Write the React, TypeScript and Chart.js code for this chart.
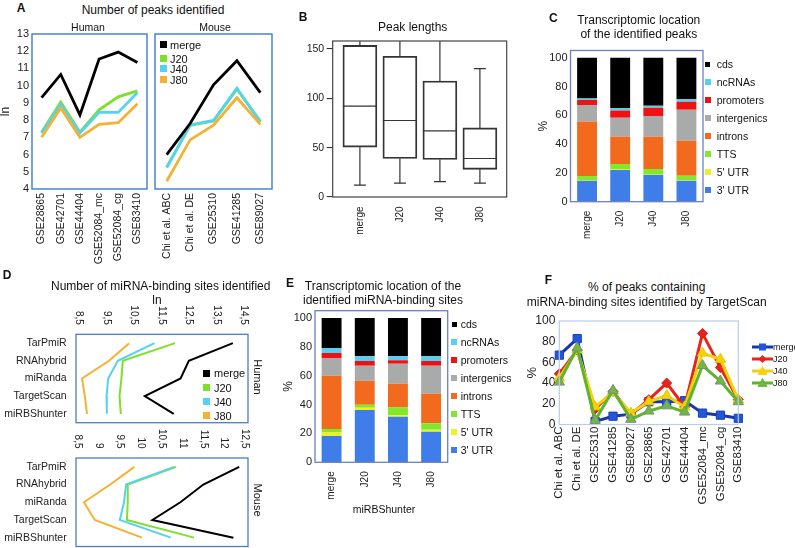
import React, { useEffect, useRef } from 'react';
import { Chart, registerables } from 'chart.js';

Chart.register(...registerables);

const FONT = "'Liberation Sans', Arial, Helvetica, sans-serif";
Chart.defaults.font.family = FONT;
Chart.defaults.color = '#222';

// ---------- colours ----------
const C_MERGE = '#000000';
const C_J20 = '#7fe02a';
const C_J40 = '#55d2f2';
const C_J80 = '#f5b133';

// ---------- Panel A data ----------
const aHumanCats = ['GSE28865', 'GSE42701', 'GSE44404', 'GSE52084_mc', 'GSE52084_cg', 'GSE83410'];
const aHumanMerge = [9.3, 10.65, 8.3, 11.55, 11.95, 11.35];
const aHumanJ20 = [7.3, 9.05, 7.3, 8.6, 9.35, 9.7];
const aHumanJ40 = [7.25, 8.9, 7.25, 8.45, 8.45, 9.6];
const aHumanJ80 = [7.0, 8.7, 7.0, 7.75, 7.85, 8.95];

const aMouseCats = ['Chi et al. ABC', 'Chi et al. DE', 'GSE25310', 'GSE41285', 'GSE89027'];
const aMouseMerge = [6.0, 7.8, 10.05, 11.45, 9.6];
const aMouseJ20 = [5.25, 7.7, 7.95, 9.8, 7.95];
const aMouseJ40 = [5.25, 7.72, 7.98, 9.85, 7.88];
const aMouseJ80 = [4.45, 6.85, 7.7, 9.3, 7.75];

// ---------- Panel B data ----------
const bCats = ['merge', 'J20', 'J40', 'J80'];
const bLow = [12, 14, 15.5, 14];
const bQ1 = [50.5, 39, 38, 28];
const bMed = [92, 77.5, 67, 39];
const bQ3 = [153.5, 142.5, 117.5, 70];
const bHigh = [175, 175, 175, 130];

// ---------- Panels C / E data ----------
const locCats = ['merge', 'J20', 'J40', 'J80'];
const segLabels = ["3' UTR", "5' UTR", 'TTS', 'introns', 'intergenics', 'promoters', 'ncRNAs', 'cds'];
const segColors = ['#3f7ee8', '#f0f01e', '#82e82c', '#f26a1e', '#a9abab', '#f01212', '#55d0f2', '#000000'];

const c3UTR = [14.6, 22.0, 18.5, 14.6];
const c5UTR = [0.3, 0.3, 0.3, 0.3];
const cTTS = [3.0, 3.9, 3.9, 3.2];
const cIntrons = [37.8, 18.9, 22.4, 24.3];
const cIntergenics = [11.5, 13.2, 14.4, 21.5];
const cPromoters = [3.5, 5.1, 5.8, 5.5];
const cNcRNAs = [0.9, 1.6, 1.4, 1.7];
const cCds = [28.4, 35.0, 33.3, 28.9];

const e3UTR = [18.3, 36.3, 31.5, 21.1];
const e5UTR = [2.3, 1.4, 1.1, 1.4];
const eTTS = [2.5, 2.1, 5.4, 4.6];
const eIntrons = [36.9, 16.7, 16.4, 20.4];
const eIntergenics = [12.2, 10.4, 13.9, 19.4];
const ePromoters = [3.5, 3.2, 2.3, 3.2];
const eNcRNAs = [3.5, 3.3, 2.8, 3.3];
const eCds = [20.8, 26.6, 26.6, 26.6];

const locTicks = [0, 10, 20, 30, 40, 50, 60, 70, 80, 90, 100];

// ---------- Panel D data ----------
const dMethods = ['TarPmiR', 'RNAhybrid', 'miRanda', 'TargetScan', 'miRBShunter'];
const dHumanMerge = [14.1, 12.5, 12.2, 10.9, 11.95];
const dHumanJ20 = [12.0, 10.1, 10.05, 9.98, 10.03];
const dHumanJ40 = [11.25, 9.92, 9.57, 9.51, 9.52];
const dHumanJ80 = [10.33, 9.6, 8.62, 8.72, 8.8];
const dMouseMerge = [12.36, 11.5, 10.95, 10.28, 12.22];
const dMouseJ20 = [10.85, 9.69, 9.69, 9.67, 11.28];
const dMouseJ40 = [10.8, 9.65, 9.6, 9.5, 10.72];
const dMouseJ80 = [9.85, 9.27, 8.64, 8.9, 10.03];
const dHumanTicks = [8.5, 9.5, 10.5, 11.5, 12.5, 13.5, 14.5];
const dMouseTicks = [8.5, 9, 9.5, 10, 10.5, 11, 11.5, 12, 12.5];

// ---------- Panel F data ----------
const fCats = ['Chi et al. ABC', 'Chi et al. DE', 'GSE25310', 'GSE41285', 'GSE89027', 'GSE28865', 'GSE42701', 'GSE44404', 'GSE52084_mc', 'GSE52084_cg', 'GSE83410'];
const fMerge = [67, 83, 3, 8, 10, 22, 22, 23, 11, 9, 6];
const fJ20 = [49, 72, 15, 32, 10, 24, 40, 17, 88, 55, 24];
const fJ40 = [45, 72, 17, 31, 11, 22, 28, 17, 69, 63, 24];
const fJ80 = [41, 74, 4, 33, 5, 13, 18, 12, 57, 42, 22];

// ---------- helpers ----------
const fix = (size: number) => (s: any) => {
  if (s.isHorizontal()) s.height = size;
  else s.width = size;
  s.paddingLeft = 0;
  s.paddingRight = 0;
  s.paddingTop = 0;
  s.paddingBottom = 0;
};

const framePlugin = (color: string, width = 1.2) => ({
  id: 'frame',
  afterDraw(chart: any) {
    const { ctx, chartArea: a } = chart;
    ctx.save();
    ctx.strokeStyle = color;
    ctx.lineWidth = width;
    ctx.strokeRect(a.left, a.top, a.right - a.left, a.bottom - a.top);
    ctx.restore();
  },
});

const noGrid = { display: false, drawTicks: false };
const noBorder = { display: false };
const baseOpts = {
  responsive: false,
  animation: false,
  devicePixelRatio: 1,
  events: [],
};
const noPlugins = { legend: { display: false }, tooltip: { enabled: false }, title: { display: false } };

type G = { cl: number; ct: number; cw: number; ch: number; al: number; at: number; ar: number; ab: number };

// ---------- Panel A ----------
function makeA(cats: string[], m: number[], j20: number[], j40: number[], j80: number[], g: G, showY: boolean) {
  const ds = (label: string, data: number[], color: string, order: number) => ({
    label, data, borderColor: color, backgroundColor: color, borderWidth: 2.8, pointRadius: 0, tension: 0, order,
  });
  const yScale: any = {
    type: 'linear', display: showY, min: 4, max: 13,
    ticks: { stepSize: 1, font: { size: 11 }, padding: 3 },
    grid: noGrid, border: noBorder,
    title: { display: true, text: 'ln', font: { size: 12 }, padding: { top: -2, bottom: 0 } },
  };
  if (showY) yScale.afterFit = fix(g.al - g.cl);
  return {
    type: 'line',
    data: {
      labels: cats,
      datasets: [ds('merge', m, C_MERGE, 0), ds('J20', j20, C_J20, 3), ds('J40', j40, C_J40, 2), ds('J80', j80, C_J80, 1)],
    },
    options: {
      ...baseOpts,
      layout: { padding: { left: showY ? 0 : g.al - g.cl, top: g.at - g.ct, right: g.cl + g.cw - g.ar, bottom: 0 } },
      plugins: noPlugins,
      scales: {
        x: {
          type: 'category', offset: true, grid: noGrid, border: noBorder,
          ticks: { font: { size: 10.5 }, padding: 4, minRotation: 90, maxRotation: 90, autoSkip: false },
          afterFit: fix(g.ct + g.ch - g.ab),
        },
        y: yScale,
      },
    },
    plugins: [framePlugin('#3d7cc9', 1.4)],
  };
}

// ---------- Panel B ----------
const whiskerPlugin = {
  id: 'whiskers',
  afterDatasetsDraw(chart: any) {
    const { ctx, chartArea: a, scales } = chart;
    const x = scales.x, y = scales.y;
    const meta = chart.getDatasetMeta(0);
    ctx.save();
    ctx.beginPath();
    ctx.rect(a.left, a.top, a.right - a.left, a.bottom - a.top);
    ctx.clip();
    ctx.strokeStyle = '#333';
    ctx.lineWidth = 1.2;
    const line = (x1: number, y1: number, x2: number, y2: number) => {
      ctx.beginPath();
      ctx.moveTo(x1, y1);
      ctx.lineTo(x2, y2);
      ctx.stroke();
    };
    bCats.forEach((_, i) => {
      const px = x.getPixelForValue(i);
      const half = meta.data[i] ? meta.data[i].width / 2 : 17;
      const cap = 6;
      line(px, y.getPixelForValue(bLow[i]), px, y.getPixelForValue(bQ1[i]));
      line(px, y.getPixelForValue(bQ3[i]), px, y.getPixelForValue(bHigh[i]));
      line(px - cap, y.getPixelForValue(bLow[i]), px + cap, y.getPixelForValue(bLow[i]));
      line(px - cap, y.getPixelForValue(bHigh[i]), px + cap, y.getPixelForValue(bHigh[i]));
      line(px - half, y.getPixelForValue(bMed[i]), px + half, y.getPixelForValue(bMed[i]));
    });
    ctx.restore();
  },
};

function makeB(g: G) {
  return {
    type: 'bar',
    data: {
      datasets: [{
        label: 'Peak lengths',
        data: bCats.map((_, i) => ({ x: i, y: [bQ1[i], bQ3[i]] })),
        backgroundColor: 'rgba(255,255,255,0)',
        borderColor: '#333',
        borderWidth: 1.2,
        borderSkipped: false,
        barThickness: 34,
      }],
    },
    options: {
      ...baseOpts,
      layout: { padding: { left: 0, top: g.at - g.ct, right: g.cl + g.cw - g.ar, bottom: 0 } },
      plugins: noPlugins,
      scales: {
        x: {
          type: 'linear', min: -0.68, max: 3.67, offset: false,
          afterBuildTicks: (s: any) => { s.ticks = bCats.map((_, i) => ({ value: i })); },
          ticks: { font: { size: 10 }, padding: 9.5, minRotation: 90, maxRotation: 90, autoSkip: false, callback: (v: any) => bCats[v] },
          grid: { display: false, drawTicks: false, offset: false }, border: noBorder,
          afterFit: fix(g.ct + g.ch - g.ab),
        },
        y: {
          type: 'linear', min: 0, max: 158,
          ticks: { stepSize: 50, font: { size: 10.5 }, padding: 2.5, includeBounds: false },
          grid: { display: true, drawOnChartArea: false, drawTicks: true, tickLength: 6, color: '#333', lineWidth: 1.1 },
          border: noBorder,
          afterFit: fix(g.al - g.cl),
        },
      },
    },
    plugins: [whiskerPlugin, framePlugin('#444', 1.2)],
  };
}

// ---------- Panels C / E ----------
function makeLoc(series: number[][], g: G) {
  return {
    type: 'bar',
    data: {
      labels: locCats,
      datasets: series.map((d, i) => ({
        label: segLabels[i], data: d, backgroundColor: segColors[i], borderWidth: 0,
        categoryPercentage: 1, barPercentage: 0.6,
      })),
    },
    options: {
      ...baseOpts,
      layout: { padding: { left: 0, top: g.at - g.ct, right: g.cl + g.cw - g.ar, bottom: 0 } },
      plugins: noPlugins,
      scales: {
        x: {
          type: 'category', stacked: true, grid: noGrid, border: noBorder,
          ticks: { font: { size: 10 }, padding: 9, minRotation: 90, maxRotation: 90, autoSkip: false },
          afterFit: fix(g.ct + g.ch - g.ab),
        },
        y: {
          type: 'linear', stacked: true, min: 0, max: 105,
          afterBuildTicks: (s: any) => { s.ticks = locTicks.map((v) => ({ value: v })); },
          ticks: { font: { size: 11 }, padding: 3 },
          grid: noGrid, border: noBorder,
          title: { display: true, text: '%', font: { size: 12 }, padding: { top: 0, bottom: 0 } },
          afterFit: fix(g.al - g.cl),
        },
      },
    },
    plugins: [framePlugin('#6b7fc8', 1.3)],
  };
}

// ---------- Panel D ----------
const fmtComma = (v: number) => String(v).replace('.', ',');
const topTicksPlugin = (gap: number) => ({
  id: 'topTicks',
  afterDraw(chart: any) {
    const s = chart.scales.x;
    const { ctx, chartArea: a } = chart;
    ctx.save();
    ctx.font = `10px ${FONT}`;
    ctx.fillStyle = '#222';
    ctx.textAlign = 'right';
    ctx.textBaseline = 'middle';
    s.ticks.forEach((t: any) => {
      const px = s.getPixelForValue(t.value);
      ctx.save();
      ctx.translate(px, a.top - gap);
      ctx.rotate(Math.PI / 2);
      ctx.fillText(fmtComma(t.value), 0, 0);
      ctx.restore();
    });
    ctx.restore();
  },
});

function makeD(m: number[], j20: number[], j40: number[], j80: number[], min: number, max: number, ticks: number[], g: G) {
  const ds = (label: string, data: number[], color: string, order: number) => ({
    label, data, borderColor: color, backgroundColor: color, borderWidth: 2, pointRadius: 0, tension: 0, order,
  });
  return {
    type: 'line',
    data: {
      labels: dMethods,
      datasets: [ds('merge', m, C_MERGE, 0), ds('J20', j20, C_J20, 3), ds('J40', j40, C_J40, 2), ds('J80', j80, C_J80, 1)],
    },
    options: {
      ...baseOpts,
      indexAxis: 'y',
      layout: { padding: { left: 0, top: 0, right: g.cl + g.cw - g.ar, bottom: g.ct + g.ch - g.ab } },
      plugins: noPlugins,
      scales: {
        x: {
          type: 'linear', position: 'top', min, max,
          afterBuildTicks: (s: any) => { s.ticks = ticks.map((v) => ({ value: v })); },
          ticks: { display: false },
          grid: noGrid, border: noBorder,
          afterFit: fix(g.at - g.ct),
        },
        y: {
          type: 'category', offset: true,
          ticks: { font: { size: 10.5 }, padding: 9.3, autoSkip: false },
          grid: noGrid, border: noBorder,
          afterFit: fix(g.al - g.cl),
        },
      },
    },
    plugins: [topTicksPlugin(9.5), framePlugin('#4a7cc8', 1.3)],
  };
}

// ---------- Panel F ----------
function makeF(g: G) {
  return {
    type: 'line',
    data: {
      labels: fCats,
      datasets: [
        { label: 'merge', data: fMerge, borderColor: '#1b36a6', backgroundColor: '#2157de', pointBackgroundColor: '#2157de', pointBorderColor: '#1b3fb5', pointBorderWidth: 1, pointStyle: 'rect', pointRadius: 5.8, borderWidth: 3, tension: 0, order: 3 },
        { label: 'J20', data: fJ20, borderColor: '#e8231b', backgroundColor: '#e8231b', pointBackgroundColor: '#e8231b', pointBorderColor: '#d81a14', pointBorderWidth: 1, pointStyle: 'rectRot', pointRadius: 5, borderWidth: 3, tension: 0, order: 2 },
        { label: 'J40', data: fJ40, borderColor: '#f6d10a', backgroundColor: '#f6d10a', pointBackgroundColor: '#f6d10a', pointBorderColor: '#e8c800', pointBorderWidth: 1, pointStyle: 'triangle', pointRadius: 6, borderWidth: 3, tension: 0, order: 1 },
        { label: 'J80', data: fJ80, borderColor: '#5db52f', backgroundColor: '#5db52f', pointBackgroundColor: '#6dbb3c', pointBorderColor: '#7b8f78', pointBorderWidth: 1, pointStyle: 'triangle', pointRadius: 6, borderWidth: 3, tension: 0, order: 0 },
      ],
    },
    options: {
      ...baseOpts,
      layout: { padding: { left: 0, top: g.at - g.ct, right: g.cl + g.cw - g.ar, bottom: 0 } },
      plugins: noPlugins,
      scales: {
        x: {
          type: 'category', offset: false, grid: noGrid, border: noBorder,
          ticks: { font: { size: 11.5 }, padding: 2, minRotation: 90, maxRotation: 90, autoSkip: false },
          afterFit: fix(g.ct + g.ch - g.ab),
        },
        y: {
          type: 'linear', min: 0, max: 100,
          ticks: { stepSize: 20, font: { size: 12 }, padding: 4 },
          grid: noGrid, border: noBorder,
          title: { display: true, text: '%', font: { size: 13 }, padding: { top: 0, bottom: 0 } },
          afterFit: fix(g.al - g.cl),
        },
      },
    },
    plugins: [framePlugin('#b9cde3', 1.2)],
  };
}

// ---------- geometry ----------
const gAH: G = { cl: 0, ct: 20, cw: 156, ch: 250, al: 32, at: 34, ar: 147, ab: 189 };
const gAM: G = { cl: 150, ct: 20, cw: 130, ch: 250, al: 155, at: 34, ar: 272, ab: 189 };
const gB: G = { cl: 290, ct: 30, cw: 225, ch: 215, al: 332.7, at: 41, ar: 506.7, ab: 197 };
const gC: G = { cl: 536, ct: 36, cw: 169, ch: 210, al: 570.5, at: 50.5, ar: 703, ab: 201.7 };
const gDH: G = { cl: 0, ct: 295, cw: 256, ch: 130, al: 76, at: 334.3, ar: 248, ab: 422.7 };
const gDM: G = { cl: 0, ct: 425, cw: 256, ch: 123, al: 76, at: 458, ar: 248, ab: 546.5 };
const gE: G = { cl: 281, ct: 296, cw: 170, ch: 212, al: 315, at: 310.7, ar: 447.7, ab: 462.3 };
const gF: G = { cl: 525, ct: 306, cw: 270, ch: 200, al: 559.3, at: 321, ar: 738.3, ab: 424.5 };

// ---------- components ----------
function ChartBox({ g, make }: { g: G; make: () => any }) {
  const ref = useRef<HTMLCanvasElement>(null);
  useEffect(() => {
    const chart = new Chart(ref.current as HTMLCanvasElement, make() as any);
    return () => chart.destroy();
  }, []);
  return <canvas ref={ref} width={g.cw} height={g.ch} style={{ position: 'absolute', left: g.cl, top: g.ct, width: g.cw, height: g.ch }} />;
}

function Txt({ x, y, text, size = 12, bold = false, anchor = 'middle', rot = 0 }: { x: number; y: number; text: string; size?: number; bold?: boolean; anchor?: string; rot?: number }) {
  const tx = anchor === 'middle' ? '-50%' : anchor === 'end' ? '-100%' : '0';
  return (
    <div style={{ position: 'absolute', left: x, top: y, transform: `translate(${tx}, -50%) rotate(${rot}deg)`, fontSize: size, fontWeight: bold ? 'bold' : 'normal', lineHeight: 1, whiteSpace: 'nowrap', color: '#111' }}>
      {text}
    </div>
  );
}

function Sq({ x, y, w, h, color }: { x: number; y: number; w: number; h: number; color: string }) {
  return <div style={{ position: 'absolute', left: x - w / 2, top: y - h / 2, width: w, height: h, background: color }} />;
}

const aLegend = [
  { label: 'merge', color: C_MERGE },
  { label: 'J20', color: C_J20 },
  { label: 'J40', color: C_J40 },
  { label: 'J80', color: C_J80 },
];
const aLegendY = [44.5, 58.5, 68.5, 79.5];
const dLegendY = [373, 387.5, 401.5, 415.5];
const locLegendOrder = [7, 6, 5, 4, 3, 2, 1, 0];
const cLegendY = [64.3, 82, 100, 118, 136, 154, 172, 190];
const eLegendY = [324.3, 342.3, 360, 378, 396, 414, 432, 450];

function FIcon({ kind, color, stroke }: { kind: string; color: string; stroke: string }) {
  let marker: any = null;
  if (kind === 'rect') marker = <rect x={7} y={1.5} width={7} height={7} fill={color} />;
  else if (kind === 'diamond') marker = <polygon points="10.5,1 14.5,5 10.5,9 6.5,5" fill={color} />;
  else marker = <polygon points="10.5,0.5 15,8.5 6,8.5" fill={color} stroke={stroke} strokeWidth={0.8} />;
  return (
    <svg width={21} height={10} style={{ display: 'block' }}>
      <line x1={0} y1={5} x2={21} y2={5} stroke={stroke} strokeWidth={3} />
      {marker}
    </svg>
  );
}

const fLegend = [
  { label: 'merge', kind: 'rect', color: '#2157de', stroke: '#1b36a6' },
  { label: 'J20', kind: 'diamond', color: '#e8231b', stroke: '#e8231b' },
  { label: 'J40', kind: 'triangle', color: '#f6d10a', stroke: '#f6d10a' },
  { label: 'J80', kind: 'triangle', color: '#6dbb3c', stroke: '#5db52f' },
];
const fLegendY = [347.3, 359, 371, 383.3];

export default function App() {
  const cSeries = [c3UTR, c5UTR, cTTS, cIntrons, cIntergenics, cPromoters, cNcRNAs, cCds];
  const eSeries = [e3UTR, e5UTR, eTTS, eIntrons, eIntergenics, ePromoters, eNcRNAs, eCds];
  return (
    <div style={{ position: 'absolute', left: 0, top: 0, width: 795, height: 548, overflow: 'hidden', background: '#fff', fontFamily: FONT }}>
      {/* Panel A */}
      <ChartBox g={gAH} make={() => makeA(aHumanCats, aHumanMerge, aHumanJ20, aHumanJ40, aHumanJ80, gAH, true)} />
      <ChartBox g={gAM} make={() => makeA(aMouseCats, aMouseMerge, aMouseJ20, aMouseJ40, aMouseJ80, gAM, false)} />
      <Txt x={21} y={8} text="A" bold size={12} />
      <Txt x={153} y={10} text="Number of peaks identified" size={12} />
      <Txt x={88} y={27} text="Human" size={10.5} />
      <Txt x={215} y={27} text="Mouse" size={10.5} />
      {aLegend.map((l, i) => (
        <React.Fragment key={'al' + i}>
          <Sq x={163.3} y={aLegendY[i]} w={7} h={7} color={l.color} />
          <Txt x={170} y={aLegendY[i]} text={l.label} size={11} anchor="start" />
        </React.Fragment>
      ))}

      {/* Panel B */}
      <ChartBox g={gB} make={() => makeB(gB)} />
      <Txt x={303} y={17} text="B" bold size={12} />
      <Txt x={412.7} y={27.3} text="Peak lengths" size={12} />

      {/* Panel C */}
      <ChartBox g={gC} make={() => makeLoc(cSeries, gC)} />
      <Txt x={553.3} y={18.3} text="C" bold size={12} />
      <Txt x={638.8} y={20} text="Transcriptomic location" size={12} />
      <Txt x={638.8} y={34.3} text="of the identified peaks" size={12} />
      {locLegendOrder.map((k, i) => (
        <React.Fragment key={'cl' + i}>
          <Sq x={707.8} y={cLegendY[i]} w={k === 7 ? 5 : 6.5} h={k === 7 ? 5 : 6} color={segColors[k]} />
          <Txt x={716.7} y={cLegendY[i]} text={segLabels[k]} size={10.5} anchor="start" />
        </React.Fragment>
      ))}

      {/* Panel D */}
      <ChartBox g={gDH} make={() => makeD(dHumanMerge, dHumanJ20, dHumanJ40, dHumanJ80, 8.4, 14.65, dHumanTicks, gDH)} />
      <ChartBox g={gDM} make={() => makeD(dMouseMerge, dMouseJ20, dMouseJ40, dMouseJ80, 8.45, 12.57, dMouseTicks, gDM)} />
      <Txt x={7} y={275} text="D" bold size={12} />
      <Txt x={160.7} y={285.5} text="Number of miRNA-binding sites identified" size={12} />
      <Txt x={157} y={299.5} text="ln" size={12} />
      <Txt x={257} y={377} text="Human" size={11} rot={90} />
      <Txt x={257} y={500} text="Mouse" size={11} rot={90} />
      {aLegend.map((l, i) => (
        <React.Fragment key={'dl' + i}>
          <Sq x={206.5} y={dLegendY[i]} w={7} h={7} color={l.color} />
          <Txt x={214} y={dLegendY[i]} text={l.label} size={11} anchor="start" />
        </React.Fragment>
      ))}

      {/* Panel E */}
      <ChartBox g={gE} make={() => makeLoc(eSeries, gE)} />
      <Txt x={290} y={282.7} text="E" bold size={12} />
      <Txt x={383} y={286} text="Transcriptomic location of the" size={12} />
      <Txt x={383} y={300} text="identified miRNA-binding sites" size={12} />
      <Txt x={384} y={509.3} text="miRBShunter" size={10.5} />
      {locLegendOrder.map((k, i) => (
        <React.Fragment key={'el' + i}>
          <Sq x={454.2} y={eLegendY[i]} w={k === 7 ? 5 : 6.3} h={k === 7 ? 5 : 6} color={segColors[k]} />
          <Txt x={460.7} y={eLegendY[i]} text={segLabels[k]} size={10.5} anchor="start" />
        </React.Fragment>
      ))}

      {/* Panel F */}
      <ChartBox g={gF} make={() => makeF(gF)} />
      <Txt x={548.3} y={280} text="F" bold size={12} />
      <Txt x={646.7} y={286.7} text="% of peaks containing" size={12} />
      <Txt x={646.7} y={301.7} text="miRNA-binding sites identified by TargetScan" size={12} />
      {fLegend.map((l, i) => (
        <React.Fragment key={'fl' + i}>
          <div style={{ position: 'absolute', left: 751.5, top: fLegendY[i] - 5 }}>
            <FIcon kind={l.kind} color={l.color} stroke={l.stroke} />
          </div>
          <Txt x={773} y={fLegendY[i]} text={l.label} size={9} anchor="start" />
        </React.Fragment>
      ))}
    </div>
  );
}
